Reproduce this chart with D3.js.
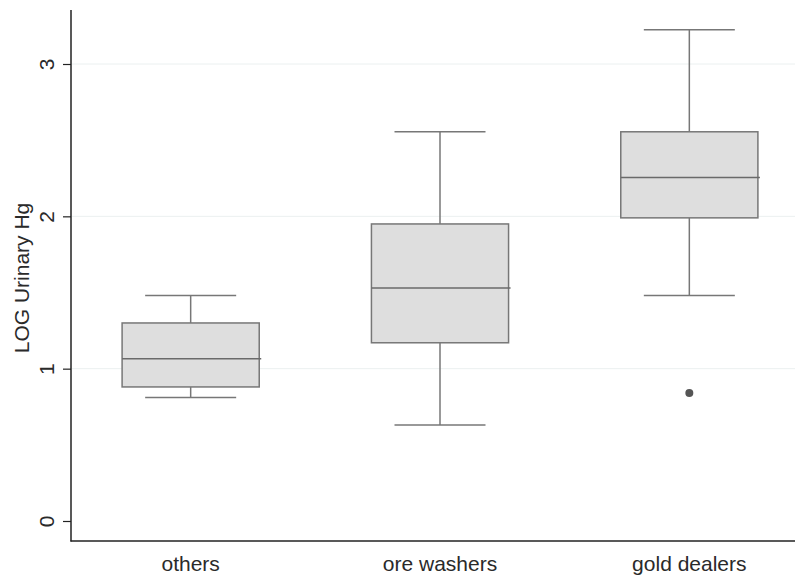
<!DOCTYPE html>
<html><head><meta charset="utf-8">
<script src="https://cdn.jsdelivr.net/npm/d3@7"></script>
<style>body{margin:0;background:#fff}svg{display:block}</style>
</head><body>
<script>
const categories = ["others", "ore washers", "gold dealers"];
const whiskerLow  = [0.81, 0.63, 1.48];
const q1          = [0.88, 1.17, 1.99];
const median      = [1.065, 1.53, 2.255];
const q3          = [1.30, 1.95, 2.555];
const whiskerHigh = [1.48, 2.555, 3.225];
const outliers    = [[], [], [0.84]];
const yTicks = [0, 1, 2, 3];
const yLabel = "LOG Urinary Hg";

const W = 795, H = 576;
const svg = d3.select("body").append("svg").attr("width", W).attr("height", H);

const y = d3.scaleLinear().domain([0, 3]).range([521, 64]);
const x = d3.scaleBand().domain(categories).range([66, 814]);
const step = x.step();
const boxW = step * 0.55, capW = step * 0.365;
const cx = c => x(c) + x.bandwidth() / 2;

const fontFam = "Liberation Sans, Arial, sans-serif";
const fs = 21;
const txtCol = "#2a2a2a";

// gridlines
svg.append("g").selectAll("line").data(yTicks.filter(t => t > 0)).join("line")
  .attr("x1", 72).attr("x2", W).attr("y1", d => y(d)).attr("y2", d => y(d))
  .attr("stroke", "#ebf0f0").attr("stroke-width", 1);

// y axis
const yAxis = svg.append("g").attr("transform", "translate(71,0)")
  .call(d3.axisLeft(y).tickValues(yTicks).tickSize(8).tickPadding(14).tickFormat(d3.format("d")));
yAxis.select(".domain").remove();
yAxis.selectAll(".tick line").attr("stroke", "#222").attr("stroke-width", 1.2);
yAxis.selectAll(".tick text")
  .attr("font-family", fontFam).attr("font-size", fs).attr("fill", txtCol)
  .attr("text-anchor", "middle").attr("dy", null)
  .attr("transform", "translate(-25,0) rotate(-90)")
  .attr("x", 0).attr("y", 0).attr("dominant-baseline", "central");

svg.append("line").attr("x1", 71).attr("x2", 71).attr("y1", 10).attr("y2", 541.5)
  .attr("stroke", "#222").attr("stroke-width", 1.5);
svg.append("line").attr("x1", 70.5).attr("x2", W).attr("y1", 541).attr("y2", 541)
  .attr("stroke", "#222").attr("stroke-width", 1.5);

// y label
svg.append("text").attr("transform", "translate(29,278) rotate(-90)")
  .attr("text-anchor", "middle").attr("font-family", fontFam).attr("font-size", fs)
  .attr("fill", txtCol).text(yLabel);

// x labels
svg.append("g").selectAll("text").data(categories).join("text")
  .attr("x", d => cx(d)).attr("y", 571).attr("text-anchor", "middle")
  .attr("font-family", fontFam).attr("font-size", fs).attr("fill", txtCol).text(d => d);

// boxes
const stroke = "#777", sw = 1.5;
const g = svg.append("g");
categories.forEach((c, i) => {
  const xc = cx(c);
  g.append("line").attr("x1", xc).attr("x2", xc).attr("y1", y(whiskerHigh[i])).attr("y2", y(q3[i]))
    .attr("stroke", stroke).attr("stroke-width", sw);
  g.append("line").attr("x1", xc).attr("x2", xc).attr("y1", y(q1[i])).attr("y2", y(whiskerLow[i]))
    .attr("stroke", stroke).attr("stroke-width", sw);
  [whiskerHigh[i], whiskerLow[i]].forEach(v => {
    g.append("line").attr("x1", xc - capW / 2).attr("x2", xc + capW / 2)
      .attr("y1", y(v)).attr("y2", y(v)).attr("stroke", stroke).attr("stroke-width", sw);
  });
  g.append("rect").attr("x", xc - boxW / 2).attr("width", boxW)
    .attr("y", y(q3[i])).attr("height", y(q1[i]) - y(q3[i]))
    .attr("fill", "#dedede").attr("stroke", stroke).attr("stroke-width", sw);
  g.append("line").attr("x1", xc - boxW / 2).attr("x2", xc + boxW / 2 + 2)
    .attr("y1", y(median[i])).attr("y2", y(median[i])).attr("stroke", "#6a6a6a").attr("stroke-width", sw);
  outliers[i].forEach(v => {
    g.append("circle").attr("cx", xc).attr("cy", y(v)).attr("r", 4).attr("fill", "#555");
  });
});
</script>
</body></html>
